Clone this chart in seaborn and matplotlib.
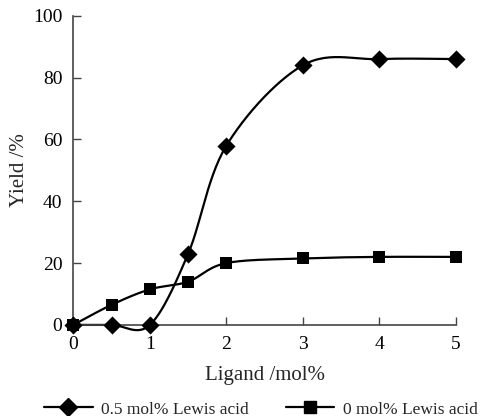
import numpy as np
import pandas as pd
import matplotlib
matplotlib.use('Agg')
import matplotlib.pyplot as plt
from matplotlib.lines import Line2D
import seaborn as sns

# data
ligand = [0, 0.5, 1, 1.5, 2, 3, 4, 5]
yield_lewis = [0, 0, 0, 23, 58, 84, 86, 86]
yield_none = [0, 6.5, 11.5, 14, 20, 21.5, 22, 22]
labels = ['0.5 mol% Lewis acid', '0 mol% Lewis acid']


def smooth(x, y, n=30):
    # Excel-style smoothed line (Bezier with Catmull-Rom control points)
    p = np.column_stack([x, y]).astype(float)
    p = np.vstack([p[0], p, p[-1]])
    out = []
    t = np.linspace(0, 1, n)[:, None]
    for i in range(1, len(p) - 2):
        p0, p3 = p[i], p[i + 1]
        c1 = p0 + (p[i + 1] - p[i - 1]) / 6
        c2 = p3 - (p[i + 2] - p[i]) / 6
        seg = (1 - t) ** 3 * p0 + 3 * (1 - t) ** 2 * t * c1 + 3 * (1 - t) * t ** 2 * c2 + t ** 3 * p3
        out.append(seg if i == 1 else seg[1:])
    out = np.vstack(out)
    return out[:, 0], out[:, 1]


sns.set_theme(style='white')
plt.rcParams['font.family'] = ['Liberation Serif', 'DejaVu Serif']

fig = plt.figure(figsize=(4.86, 4.16), dpi=100)
ax = fig.add_axes([0.151, 0.219, 0.787, 0.743])

markers = ['D', 's']
for lab, yy, m in zip(labels, [yield_lewis, yield_none], markers):
    sx, sy = smooth(ligand, yy)
    curve = pd.DataFrame({'x': sx, 'y': sy})
    sns.lineplot(data=curve, x='x', y='y', sort=False, color='black', lw=1.6, ax=ax, clip_on=False)
    pts = pd.DataFrame({'x': ligand, 'y': yy})
    sns.scatterplot(data=pts, x='x', y='y', marker=m, s=85, color='black', edgecolor='black',
                    linewidth=0, ax=ax, clip_on=False, zorder=3)

ax.set_xlim(0, 5)
ax.set_ylim(0, 100)
ax.set_xticks([0, 1, 2, 3, 4, 5])
ax.set_yticks([0, 20, 40, 60, 80, 100])
ax.tick_params(direction='in', length=6, width=1, colors='#444444', labelcolor='black',
               labelsize=14, pad=8, left=True, bottom=True)
for s in ['top', 'right']:
    ax.spines[s].set_visible(False)
for s in ['left', 'bottom']:
    ax.spines[s].set_color('#444444')
    ax.spines[s].set_linewidth(1.2)

ax.set_xlabel('Ligand /mol%', fontsize=15, labelpad=9)
ax.set_ylabel('Yield /%', fontsize=15, labelpad=3)

handles = [Line2D([], [], color='black', lw=1.6, marker=m, markersize=9) for m in markers]
fig.legend(handles, labels, loc='lower center', bbox_to_anchor=(0.537, -0.012), ncol=2,
           frameon=False, fontsize=12.5, handlelength=2.8, columnspacing=2.1, handletextpad=0.5,
           borderaxespad=0, borderpad=0.2)

fig.savefig('out.png', dpi=100)
